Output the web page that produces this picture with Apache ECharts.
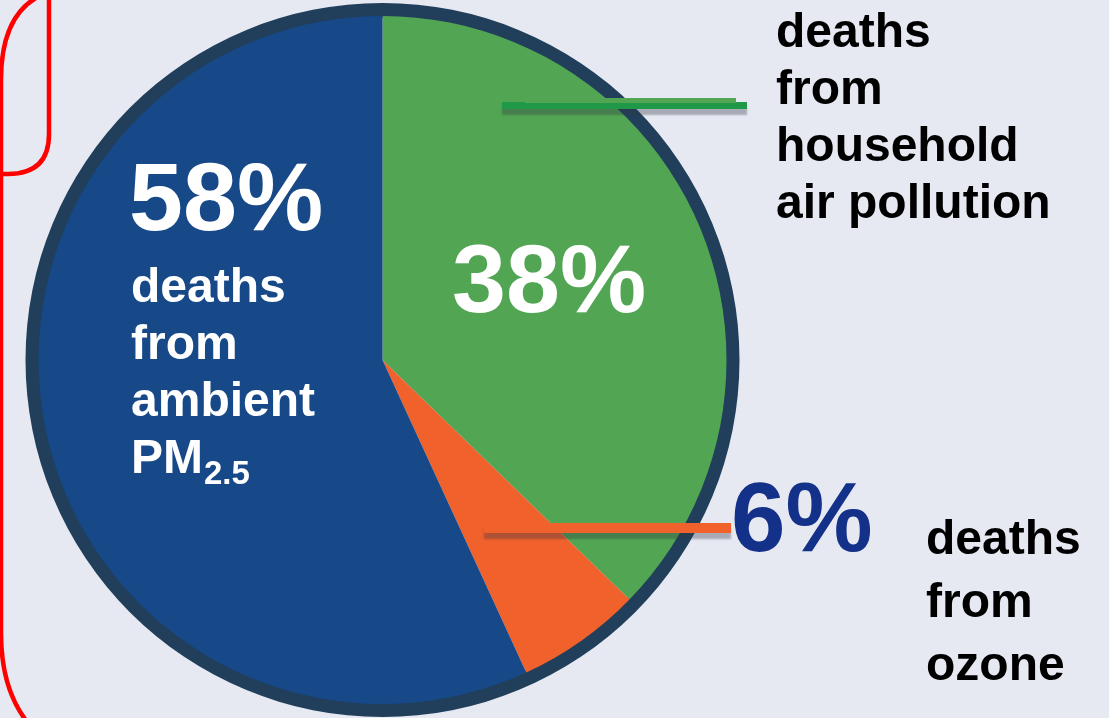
<!DOCTYPE html>
<html>
<head>
<meta charset="utf-8">
<style>
  html, body { margin: 0; padding: 0; background: #e6e9f1; }
  #chart { width: 1109px; height: 718px; }
</style>
<script src="https://cdn.jsdelivr.net/npm/echarts@6/dist/echarts.min.js"></script>
</head>
<body>
<div id="chart"></div>
<script>
// Share of deaths by source of air pollution (percent)
const sources = ['household', 'ozone', 'ambient'];
const shares = [38, 6, 58];
const sliceColors = ['#52a553', '#f0612c', '#174887'];

// Descriptive text blocks, one line per entry
const householdLines = ['deaths', 'from', 'household', 'air pollution'];
const ozoneLines = ['deaths', 'from', 'ozone'];
const ambientLines = ['deaths', 'from', 'ambient', 'PM'];
const ambientSub = '2.5';

const FONT = '"Liberation Sans", Arial, sans-serif';
const CX = 382.5, CY = 360, R_OUT = 357, R_RING = 342;

function textLines(lines, x, firstCenter, step, color, size) {
  return lines.map((t, i) => ({
    type: 'text', x: x, y: firstCenter + i * step, z: 20,
    style: {
      text: t, font: 'bold ' + size + 'px ' + FONT, fill: color,
      align: 'left', verticalAlign: 'middle',
      textAlign: 'left', textVerticalAlign: 'middle'
    }
  }));
}

const chart = echarts.init(document.getElementById('chart'), null, { renderer: 'canvas' });

const redStroke = { stroke: '#ff0000', lineWidth: 4.5, fill: null };
const leaderShadow = { shadowColor: 'rgba(50,55,70,0.35)', shadowBlur: 2, shadowOffsetY: 6 };

chart.setOption({
  backgroundColor: '#e6e9f1',
  animation: false,
  series: [
    {
      type: 'pie',
      name: 'share',
      center: [CX, CY],
      radius: [0, R_RING + 2],
      startAngle: 90,
      clockwise: true,
      avoidLabelOverlap: false,
      silent: true,
      z: 2,
      itemStyle: { borderWidth: 0 },
      labelLine: { show: false },
      data: sources.map((s, i) => ({
        name: s,
        value: shares[i],
        itemStyle: { color: sliceColors[i] },
        label: i === 1
          ? { color: '#14318a', fontSize: 98 }
          : { color: '#ffffff', fontSize: 97 }
      })),
      label: {
        show: true,
        position: 'inside',
        fontFamily: FONT,
        fontWeight: 'bold',
        formatter: p => p.value + '%'
      },
      labelLayout: function (params) {
        if (params.dataIndex === 0) {
          return { x: 452, y: 285, align: 'left', verticalAlign: 'middle' };
        }
        if (params.dataIndex === 2) {
          return { x: 129, y: 203, align: 'left', verticalAlign: 'middle' };
        }
        return { x: 731, y: 524, align: 'left', verticalAlign: 'middle' };
      }
    },
    {
      // dark outline ring around the pie
      type: 'pie',
      name: 'ring',
      center: [CX, CY],
      radius: [R_RING, R_OUT],
      silent: true,
      z: 1,
      label: { show: false },
      labelLine: { show: false },
      itemStyle: { color: '#213f5b' },
      data: [{ name: 'ring', value: 1 }]
    }
  ],
  graphic: {
    elements: [
      // red outlines along the left side
      { type: 'line', shape: { x1: 49, y1: -5, x2: 49, y2: 134 }, style: redStroke },
      { type: 'bezierCurve', shape: { x1: 49, y1: 134, cpx1: 49, cpy1: 174, x2: 8, y2: 174 }, style: redStroke },
      { type: 'line', shape: { x1: 8, y1: 174, x2: -5, y2: 174 }, style: redStroke },
      { type: 'bezierCurve', shape: { x1: 1, y1: 80, cpx1: 1, cpy1: 4, x2: 55, y2: -10 }, style: redStroke },
      { type: 'line', shape: { x1: 1, y1: 80, x2: 1, y2: 633 }, style: redStroke },
      { type: 'bezierCurve', shape: { x1: 1, y1: 633, cpx1: 1, cpy1: 705, x2: 45, y2: 740 }, style: redStroke },

      // leader line to the household label
      {
        type: 'line', z: 15,
        shape: { x1: 502, y1: 105.5, x2: 747, y2: 105.5 },
        style: Object.assign({ stroke: '#1f9847', lineWidth: 7 }, leaderShadow)
      },
      {
        type: 'line', z: 16,
        shape: { x1: 525, y1: 100.5, x2: 736, y2: 100.5 },
        style: { stroke: '#52a553', lineWidth: 5 }
      },
      // leader line from the ozone slice to its label
      {
        type: 'line', z: 15,
        shape: { x1: 484, y1: 528, x2: 731, y2: 528 },
        style: Object.assign({ stroke: '#f0612c', lineWidth: 10 }, leaderShadow)
      },

      ...textLines(householdLines, 776, 34, 57, '#000000', 48),
      ...textLines(ozoneLines, 926, 541, 63, '#000000', 48),
      ...textLines(ambientLines, 131, 289, 57, '#ffffff', 48),
      {
        type: 'text', x: 204, y: 475, z: 20,
        style: {
          text: ambientSub, font: 'bold 33px ' + FONT, fill: '#ffffff',
          align: 'left', verticalAlign: 'middle',
          textAlign: 'left', textVerticalAlign: 'middle'
        }
      }
    ]
  }
});
</script>
</body>
</html>
